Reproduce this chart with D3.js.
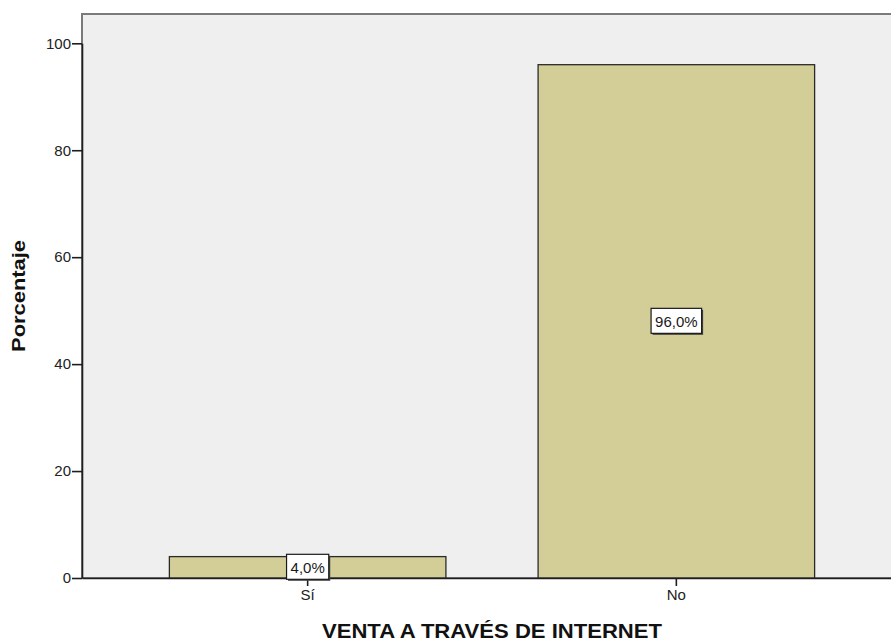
<!DOCTYPE html>
<html>
<head>
<meta charset="utf-8">
<script src="https://cdn.jsdelivr.net/npm/d3@7"></script>
<style>
  body { margin: 0; background: #fff; overflow: hidden; }
  text { font-family: "Liberation Sans", Arial, sans-serif; }
</style>
</head>
<body>
<div id="chart"></div>
<script>
// data
var categories = ["Sí", "No"];
var percentages = [4.0, 96.0];
var yTicks = [0, 20, 40, 60, 80, 100];

var width = 891, height = 644;
var plot = {left: 82, top: 14, right: 902, bottom: 578};

var svg = d3.select("#chart").append("svg")
    .attr("width", width)
    .attr("height", height)
    .style("display", "block");

var x = d3.scaleBand()
    .domain(categories)
    .range([plot.left, plot.right])
    .paddingInner(0.25)
    .paddingOuter(0.237);

var y = d3.scaleLinear()
    .domain([0, 100])
    .range([plot.bottom, 43.3]);

// plot background
svg.append("rect")
    .attr("x", plot.left)
    .attr("y", plot.top)
    .attr("width", plot.right - plot.left)
    .attr("height", plot.bottom - plot.top)
    .attr("fill", "#efefef")
    .attr("stroke", "#7a7a7a")
    .attr("stroke-width", 2);

// bars
svg.selectAll(".bar")
    .data(percentages)
    .enter().append("rect")
    .attr("class", "bar")
    .attr("x", function(d, i) { return x(categories[i]); })
    .attr("y", function(d) { return y(d); })
    .attr("width", x.bandwidth())
    .attr("height", function(d) { return y(0) - y(d); })
    .attr("fill", "#d3ce97")
    .attr("stroke", "#2b2b2b")
    .attr("stroke-width", 1.3);

// axes
var yAxis = svg.append("g")
    .attr("transform", "translate(" + plot.left + ",0)")
    .call(d3.axisLeft(y).tickValues(yTicks).tickSize(10).tickSizeOuter(0).tickPadding(1));
yAxis.select(".domain").attr("stroke", "#1e1e1e").attr("stroke-width", 1.6);
yAxis.selectAll(".tick line").attr("stroke", "#1e1e1e").attr("stroke-width", 1.6);
yAxis.selectAll("text").attr("font-size", "15px").attr("fill", "#222")
    .attr("font-family", "Liberation Sans, Arial, sans-serif");

var xAxis = svg.append("g")
    .attr("transform", "translate(0," + plot.bottom + ")")
    .call(d3.axisBottom(x).tickSize(8).tickSizeOuter(0).tickPadding(3));
xAxis.select(".domain").attr("stroke", "#1e1e1e").attr("stroke-width", 1.6);
xAxis.selectAll(".tick line").attr("stroke", "#1e1e1e").attr("stroke-width", 1.6);
xAxis.selectAll("text").attr("font-size", "15px").attr("fill", "#222")
    .attr("font-family", "Liberation Sans, Arial, sans-serif");

// value labels
var labels = svg.selectAll(".lbl")
    .data(percentages)
    .enter().append("g")
    .attr("class", "lbl")
    .attr("transform", function(d, i) {
      return "translate(" + (x(categories[i]) + x.bandwidth() / 2) + "," + y(d / 2) + ")";
    });

labels.append("text")
    .attr("text-anchor", "middle")
    .attr("dy", "0.36em")
    .attr("font-size", "15px")
    .attr("fill", "#1a1a1a")
    .text(function(d) { return d.toFixed(1).replace(".", ",") + "%"; });

labels.each(function() {
  var g = d3.select(this);
  var w = g.select("text").node().getComputedTextLength() + 8;
  g.insert("rect", "text")
      .attr("x", -w / 2 + 1.5)
      .attr("y", -11.5)
      .attr("width", w)
      .attr("height", 25)
      .attr("fill", "#444");
  g.insert("rect", "text")
      .attr("x", -w / 2)
      .attr("y", -13)
      .attr("width", w)
      .attr("height", 25)
      .attr("fill", "#fff")
      .attr("stroke", "#1a1a1a")
      .attr("stroke-width", 1.2);
});

// axis titles
svg.append("text")
    .attr("x", (plot.left + plot.right) / 2)
    .attr("y", 638)
    .attr("text-anchor", "middle")
    .attr("font-size", "20px")
    .attr("font-weight", "bold")
    .attr("fill", "#111")
    .attr("textLength", 340)
    .attr("lengthAdjust", "spacingAndGlyphs")
    .text("VENTA A TRAVÉS DE INTERNET");

svg.append("text")
    .attr("transform", "translate(25,296) rotate(-90)")
    .attr("text-anchor", "middle")
    .attr("font-size", "19px")
    .attr("font-weight", "bold")
    .attr("fill", "#111")
    .attr("textLength", 112)
    .attr("lengthAdjust", "spacingAndGlyphs")
    .text("Porcentaje");
</script>
</body>
</html>
